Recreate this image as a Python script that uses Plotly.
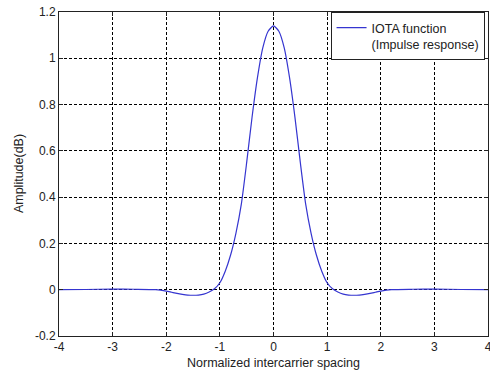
import plotly.graph_objects as go

x_left = [-4.0, -3.5, -3.0, -2.6, -2.2, -2.0, -1.9, -1.8, -1.7, -1.6, -1.5, -1.4, -1.3,
          -1.2, -1.1, -1.0, -0.9, -0.8, -0.7, -0.6, -0.5, -0.4, -0.3, -0.2, -0.1]
y_left = [0.0, 0.001, 0.003, 0.002, 0.0, -0.006, -0.011, -0.016, -0.020, -0.023, -0.024, -0.023, -0.019,
          -0.010, 0.004, 0.030, 0.080, 0.150, 0.245, 0.370, 0.550, 0.745, 0.915, 1.045, 1.117]
x_peak = [0.0]
y_peak = [1.14]
x_values = x_left + x_peak + [-v for v in reversed(x_left)]
y_values = y_left + y_peak + list(reversed(y_left))

x_ticks = [-4, -3, -2, -1, 0, 1, 2, 3, 4]
x_ticktext = ["-4", "-3", "-2", "-1", "0", "1", "2", "3", "4"]
y_ticks = [-0.2, 0, 0.2, 0.4, 0.6, 0.8, 1.0, 1.2]
y_ticktext = ["-0.2", "0", "0.2", "0.4", "0.6", "0.8", "1", "1.2"]

series_name = "IOTA function<br>(Impulse response)"
x_title = "Normalized intercarrier spacing"
y_title = "Amplitude(dB)"

fig = go.Figure()
fig.add_trace(go.Scatter(
    x=x_values, y=y_values, mode="lines", name=series_name,
    line=dict(color="#3535d0", width=1.2, shape="spline", smoothing=0.6),
))

font_family = "Liberation Sans, Arial, Helvetica, sans-serif"
axis_common = dict(
    showline=True, linecolor="#222222", linewidth=1, mirror="ticks",
    ticks="inside", ticklen=4, tickcolor="#222222",
    showgrid=True, gridcolor="#000000", gridwidth=1, griddash="3px,2px",
    zeroline=False, automargin=False, ticklabeloverflow="allow",
    tickfont=dict(size=12, color="#222222", family=font_family),
)

fig.update_layout(
    width=490, height=375,
    margin=dict(l=59, r=2, t=12, b=39),
    paper_bgcolor="white", plot_bgcolor="white",
    font=dict(family=font_family, size=12, color="#222222"),
    showlegend=True,
    legend=dict(
        x=0.633, y=1.0, xanchor="left", yanchor="top",
        bgcolor="white", bordercolor="#222222", borderwidth=1,
        font=dict(size=12.5, color="#222222"),
        itemwidth=30, valign="top", tracegroupgap=0,
    ),
    xaxis=dict(range=[-4, 4], tickvals=x_ticks, ticktext=x_ticktext, **axis_common),
    yaxis=dict(range=[-0.2, 1.2], tickvals=y_ticks, ticktext=y_ticktext, **axis_common),
    annotations=[
        dict(text=x_title, xref="paper", yref="paper", x=0.5, y=-0.083,
             xanchor="center", yanchor="middle", showarrow=False,
             font=dict(size=12.5, color="#222222")),
        dict(text=y_title, xref="paper", yref="paper", x=-0.093, y=0.5,
             xanchor="center", yanchor="middle", showarrow=False, textangle=-90,
             font=dict(size=12.5, color="#222222")),
    ],
)

fig.write_html(
    "out.html",
    config={"displayModeBar": False},
    post_script="document.body.style.margin='0';document.body.style.overflow='hidden';",
)
